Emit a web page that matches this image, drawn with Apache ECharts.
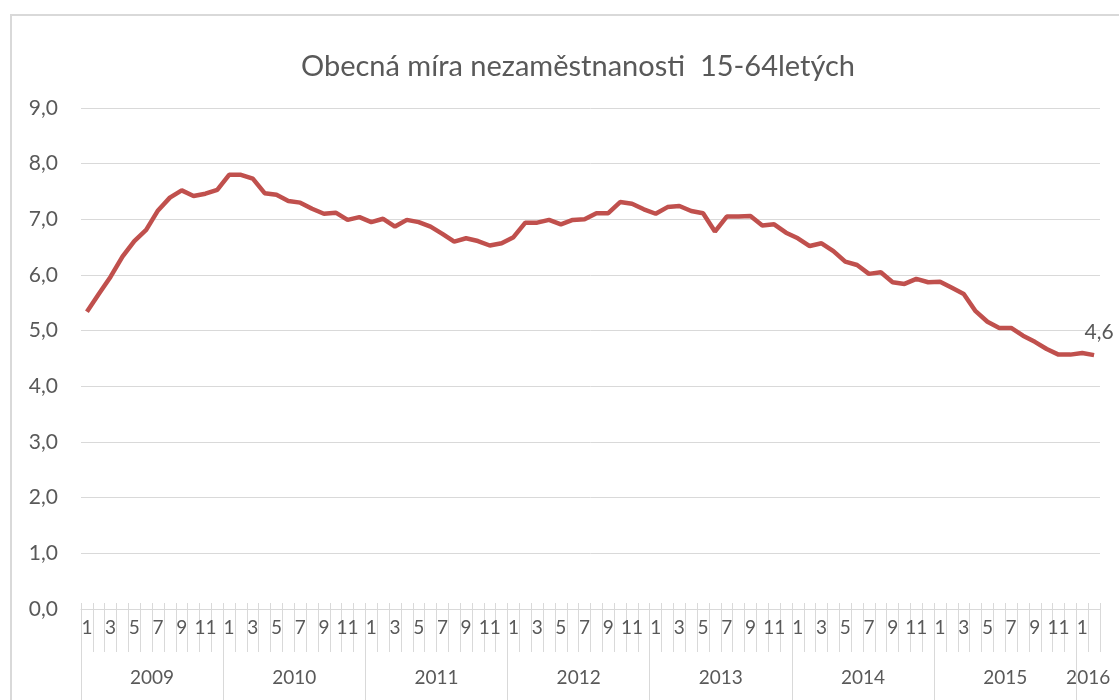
<!DOCTYPE html>
<html>
<head>
<meta charset="utf-8">
<script src="https://cdn.jsdelivr.net/npm/echarts@6/dist/echarts.min.js"></script>
<style>html,body{margin:0;padding:0;background:#fff}#c{width:1119px;height:700px}</style>
</head>
<body>
<div id="c"></div>
<script>
const titleText = 'Obecná míra nezaměstnanosti  15-64letých';
const years = ['2009','2010','2011','2012','2013','2014','2015','2016'];
const monthsPerYear = [12,12,12,12,12,12,12,2];
const v2009 = [5.34,5.66,5.97,6.33,6.61,6.81,7.16,7.39,7.52,7.42,7.46,7.53];
const v2010 = [7.80,7.80,7.73,7.47,7.44,7.33,7.30,7.19,7.10,7.12,6.99,7.04];
const v2011 = [6.95,7.01,6.87,6.99,6.95,6.87,6.74,6.60,6.66,6.61,6.53,6.57];
const v2012 = [6.68,6.94,6.94,6.99,6.91,6.99,7.00,7.11,7.11,7.31,7.28,7.18];
const v2013 = [7.10,7.22,7.24,7.15,7.11,6.78,7.05,7.05,7.06,6.89,6.91,6.76];
const v2014 = [6.66,6.52,6.57,6.43,6.24,6.18,6.02,6.05,5.87,5.84,5.93,5.87];
const v2015 = [5.88,5.77,5.66,5.35,5.16,5.05,5.05,4.91,4.80,4.67,4.57,4.57];
const v2016 = [4.60,4.56];
const yTicks = [0,1,2,3,4,5,6,7,8,9];

const values = [].concat(v2009,v2010,v2011,v2012,v2013,v2014,v2015,v2016);
const months = [];
monthsPerYear.forEach(n => { for (let m = 1; m <= n; m++) months.push(String(m)); });
const yearBounds = [0];
const yearCenters = [];
monthsPerYear.forEach((n, i) => { yearCenters.push(yearBounds[i] + n / 2); yearBounds.push(yearBounds[i] + n); });
const yearBoundsTicks = yearBounds.slice(0, -1);
const fmt = v => Number(v).toFixed(1).replace('.', ',');
const txt = '#595959';
const font = 'Lato, "Open Sans", sans-serif';

const chart = echarts.init(document.getElementById('c'));
chart.setOption({
  backgroundColor: '#fff',
  animation: false,
  textStyle: { fontFamily: font },
  title: {
    text: titleText, left: 573, top: 47, textAlign: 'center',
    textStyle: { fontSize: 29, fontWeight: 'normal', color: txt, fontFamily: font }
  },
  graphic: [{
    type: 'rect', silent: true, z: -10,
    shape: { x: 11, y: 15, width: 1200, height: 800 },
    style: { fill: 'none', stroke: '#d9d9d9', lineWidth: 2 }
  }],
  grid: { left: 81, right: 19, top: 108, bottom: 91 },
  xAxis: [{
    type: 'category', data: months, boundaryGap: true, position: 'bottom',
    axisLine: { show: true, lineStyle: { color: '#d9d9d9', width: 1 } },
    axisTick: { show: true, interval: 0, length: 43, lineStyle: { color: '#d9d9d9' } },
    axisLabel: { interval: 1, margin: 9, fontSize: 19, color: txt, fontFamily: font }
  }, {
    type: 'value', min: 0, max: months.length, position: 'bottom',
    axisLine: { show: false },
    splitLine: { show: false },
    axisTick: { show: true, customValues: yearBoundsTicks, length: 91, lineStyle: { color: '#d9d9d9' } },
    axisLabel: {
      customValues: yearCenters, margin: 59, fontSize: 19, color: txt, fontFamily: font,
      formatter: v => { const i = yearCenters.indexOf(v); return i >= 0 ? years[i] : ''; }
    }
  }, {
    type: 'category', data: months, boundaryGap: true, position: 'bottom',
    axisLine: { show: false },
    axisTick: { show: true, inside: true, interval: 0, length: 6, lineStyle: { color: '#d9d9d9' } },
    axisLabel: { show: false }
  }],
  yAxis: {
    type: 'value', min: yTicks[0], max: yTicks[yTicks.length - 1], interval: 1,
    axisLine: { show: false }, axisTick: { show: false },
    splitLine: { lineStyle: { color: '#d9d9d9', width: 1 } },
    axisLabel: { formatter: fmt, margin: 23, fontSize: 21, color: txt, fontFamily: font }
  },
  series: [{
    type: 'line', xAxisIndex: 0, data: values, showSymbol: false,
    lineStyle: { color: '#c0504d', width: 4.5 }, itemStyle: { color: '#c0504d' },
    markPoint: {
      symbol: 'circle', symbolSize: 0,
      label: { show: true, position: 'top', distance: 12, offset: [5, 0], formatter: p => fmt(p.value), fontSize: 21, color: txt, fontFamily: font },
      data: [{ coord: [months.length - 1, values[values.length - 1]], value: values[values.length - 1] }]
    }
  }]
});
</script>
</body>
</html>
